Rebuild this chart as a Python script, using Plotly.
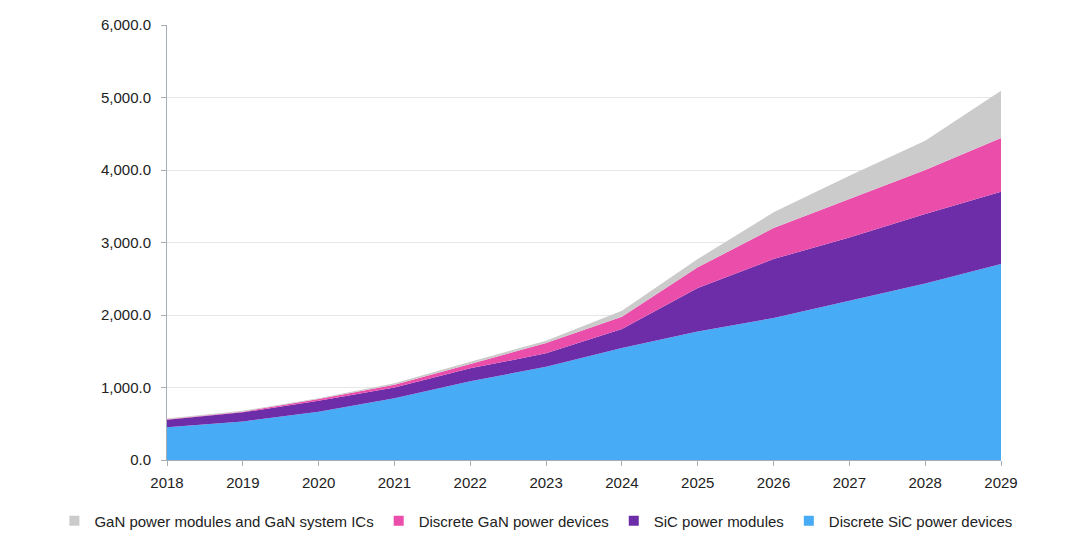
import plotly.graph_objects as go

# =========================
# data
years = [2018, 2019, 2020, 2021, 2022, 2023, 2024, 2025, 2026, 2027, 2028, 2029]

discrete_sic = [450, 532, 666, 850, 1085, 1287, 1545, 1774, 1958, 2197, 2436, 2703]
sic_modules = [106, 125, 152, 151, 179, 184, 262, 598, 814, 873, 957, 997]
discrete_gan = [5, 10, 23, 38, 60, 143, 170, 285, 428, 530, 607, 741]
gan_modules_ics = [10, 12, 12, 18, 32, 32, 83, 115, 216, 321, 404, 653]

series_names = [
    "Discrete SiC power devices",
    "SiC power modules",
    "Discrete GaN power devices",
    "GaN power modules and GaN system ICs",
]
series_values = [discrete_sic, sic_modules, discrete_gan, gan_modules_ics]
series_colors = ["#48abf6", "#6d2ca8", "#eb4dab", "#cbcbcb"]

y_ticks = [0, 1000, 2000, 3000, 4000, 5000, 6000]

# =========================
# stacked area chart
fig = go.Figure()

for name, vals, col in zip(series_names, series_values, series_colors):
    fig.add_trace(
        go.Scatter(
            x=years,
            y=vals,
            name=name,
            mode="lines",
            line=dict(width=0, color=col),
            fillcolor=col,
            stackgroup="one",
            showlegend=False,
        )
    )

# legend entries with small square swatches (top series first, like the original)
for name, col in zip(series_names[::-1], series_colors[::-1]):
    fig.add_trace(
        go.Scatter(
            x=[None],
            y=[None],
            name=name,
            mode="markers",
            marker=dict(symbol="square", size=10, color=col),
        )
    )

# page body has an 8px margin, so margins are shifted to compensate
fig.update_layout(
    width=1080,
    height=547,
    plot_bgcolor="white",
    paper_bgcolor="white",
    font=dict(family="Liberation Sans, Arial, sans-serif", size=15, color="#222222"),
    margin=dict(l=159, r=87, t=17, b=95),
    legend=dict(
        orientation="h",
        traceorder="normal",
        x=-0.135,
        xanchor="left",
        y=-0.14,
        yanchor="middle",
        font=dict(size=15),
        itemwidth=30,
    ),
)

fig.update_xaxes(
    range=[2018, 2029],
    tickmode="array",
    tickvals=years,
    showgrid=False,
    showline=True,
    linecolor="#a6adb4",
    ticks="outside",
    ticklen=5,
    tickcolor="#a6adb4",
    ticklabelstandoff=4,
    zeroline=False,
    automargin=False,
)

fig.update_yaxes(
    range=[0, 6000],
    tickmode="array",
    tickvals=y_ticks,
    tickformat=",.1f",
    showgrid=True,
    gridcolor="#e6e6e6",
    showline=True,
    linecolor="#a6adb4",
    ticks="outside",
    ticklen=5,
    tickcolor="#a6adb4",
    ticklabelstandoff=7,
    zeroline=False,
    automargin=False,
)

fig.write_html("out.html")
